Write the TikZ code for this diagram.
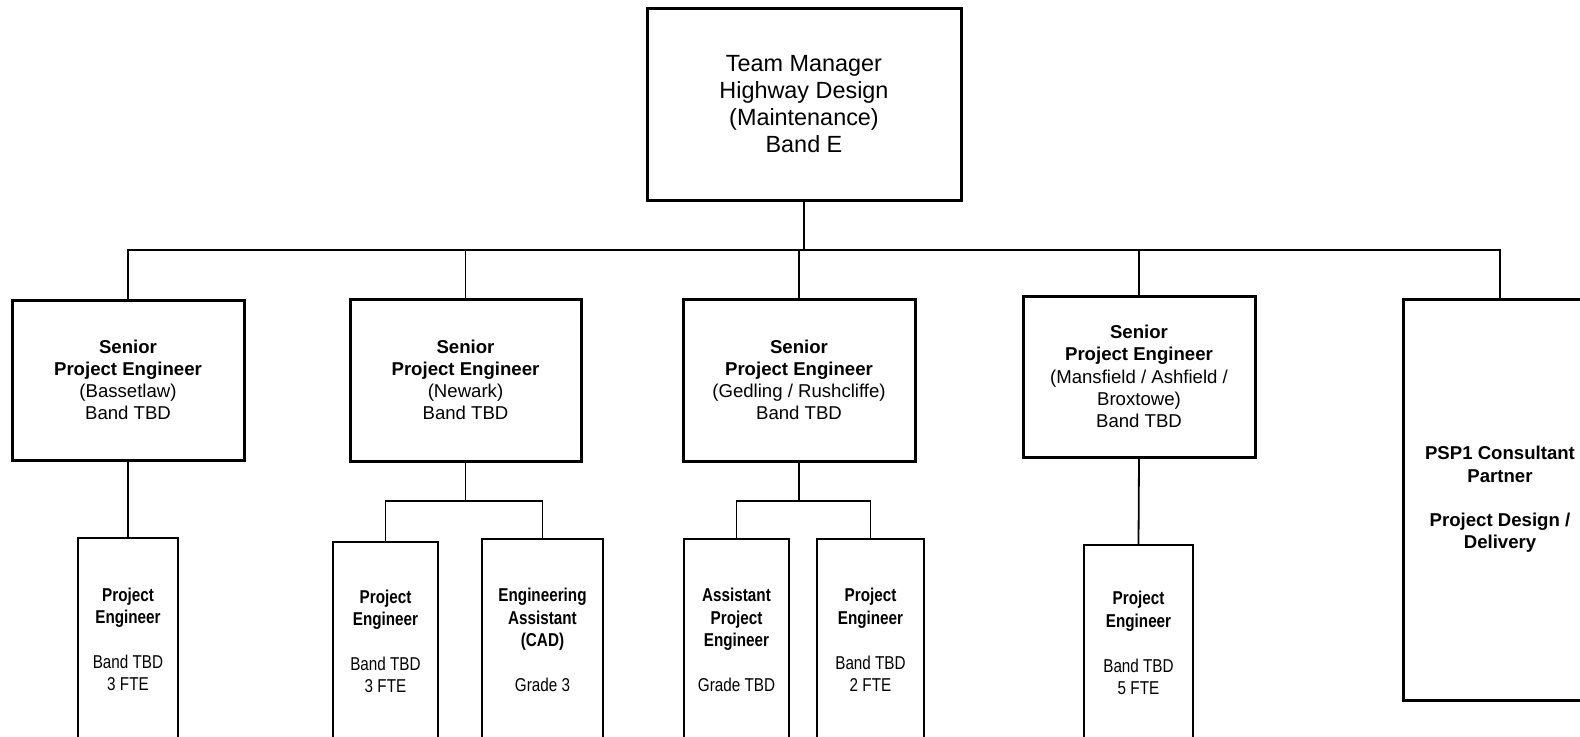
\documentclass[tikz,border=0pt]{standalone}
\usepackage{fontspec}
\setmainfont{Liberation Sans}
\newfontfamily\narrowfont[FakeStretch=0.82]{Liberation Sans}
\begin{document}
\begin{tikzpicture}[x=0.5pt,y=-0.5pt,
  bigbox/.style={draw, line width=1.5pt, rectangle, inner sep=0pt, align=center, font=\fontsize{9.3}{11.1}\selectfont},
  topbox/.style={bigbox, font=\fontsize{11.7}{13.5}\selectfont},
  smallbox/.style={draw, line width=1pt, rectangle, inner sep=0pt, align=center, font=\narrowfont\fontsize{9.3}{11.2}\selectfont},
  conn/.style={line width=0.9pt}]
\useasboundingbox (0,0) rectangle (1580,736);
\clip (0,0) rectangle (1580,736);
% top
\node[topbox, minimum width=157pt, minimum height=96pt] (top) at (804,104)
  {Team Manager\\Highway Design\\(Maintenance)\\Band E};
% seniors
\node[bigbox, minimum width=116pt, minimum height=80pt] (s1) at (128,380)
  {\textbf{Senior}\\\textbf{Project Engineer}\\(Bassetlaw)\\Band TBD};
\node[bigbox, minimum width=115.5pt, minimum height=81pt] (s2) at (465.5,380)
  {\textbf{Senior}\\\textbf{Project Engineer}\\(Newark)\\Band TBD};
\node[bigbox, minimum width=116pt, minimum height=81pt] (s3) at (799,380)
  {\textbf{Senior}\\\textbf{Project Engineer}\\(Gedling / Rushcliffe)\\Band TBD};
\node[bigbox, minimum width=116pt, minimum height=80.5pt] (s4) at (1139,376.5)
  {\textbf{Senior}\\\textbf{Project Engineer}\\(Mansfield / Ashfield /\\Broxtowe)\\Band TBD};
\node[bigbox, minimum width=97pt, minimum height=200.5pt] (s5) at (1500,499.5)
  {\textbf{PSP1 Consultant}\\\textbf{Partner}\\[11.1pt]\textbf{Project Design /}\\\textbf{Delivery}};
% children
\node[smallbox, minimum width=50pt, minimum height=101.5pt] (c1) at (128,639.5)
  {\textbf{Project}\\\textbf{Engineer}\\[11.2pt]Band TBD\\3 FTE};
\node[smallbox, minimum width=52.5pt, minimum height=99.5pt] (c2a) at (385.5,641.5)
  {\textbf{Project}\\\textbf{Engineer}\\[11.2pt]Band TBD\\3 FTE};
\node[smallbox, minimum width=60.5pt, minimum height=101pt] (c2b) at (542.5,640)
  {\textbf{Engineering}\\\textbf{Assistant}\\\textbf{(CAD)}\\[11.2pt]Grade 3};
\node[smallbox, minimum width=52.5pt, minimum height=101pt] (c3a) at (736.5,640)
  {\textbf{Assistant}\\\textbf{Project}\\\textbf{Engineer}\\[11.2pt]Grade TBD};
\node[smallbox, minimum width=53.5pt, minimum height=101pt] (c3b) at (870.5,640)
  {\textbf{Project}\\\textbf{Engineer}\\[11.2pt]Band TBD\\2 FTE};
\node[smallbox, minimum width=54.5pt, minimum height=98pt] (c4) at (1138.5,643)
  {\textbf{Project}\\\textbf{Engineer}\\[11.2pt]Band TBD\\5 FTE};
% connectors
\coordinate (bus) at (804,250);
\coordinate (b2) at (465.5,501);
\coordinate (b3) at (799,501);
\draw[conn] (top.south) -- (top.south |- bus);
\draw[conn] (s1.north) -- (s1.north |- bus) -- (s5.north |- bus) -- (s5.north);
\draw[conn] (s2.north) -- (s2.north |- bus);
\draw[conn] (s3.north) -- (s3.north |- bus);
\draw[conn] (s4.north) -- (s4.north |- bus);
\draw[conn] (s1.south) -- (c1.north);
\draw[conn] (s2.south) -- (b2);
\draw[conn] (c2a.north) |- (b2) -| (c2b.north);
\draw[conn] (s3.south) -- (b3);
\draw[conn] (c3a.north) |- (b3) -| (c3b.north);
\draw[conn] (s4.south) -- (c4.north);
\end{tikzpicture}
\end{document}
